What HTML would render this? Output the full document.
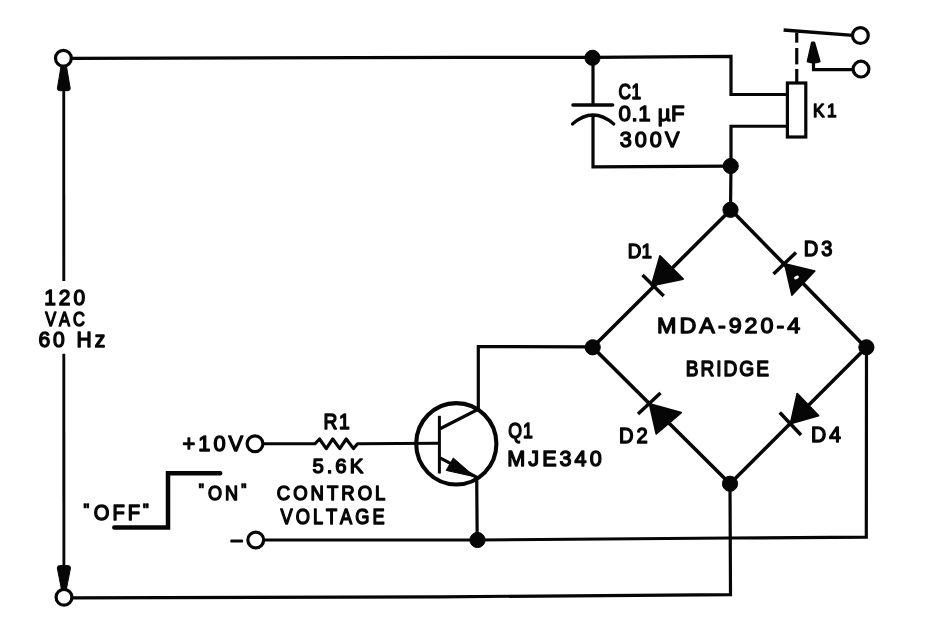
<!DOCTYPE html>
<html lang="en">
<head>
<meta charset="utf-8">
<title>Solid-state relay driver schematic</title>
<style>
html,body{margin:0;padding:0;background:#fff;}
body{width:928px;height:624px;overflow:hidden;}
svg{display:block;will-change:transform;}
svg text{font-family:"Liberation Sans",sans-serif;fill:#060606;stroke:#060606;stroke-linejoin:round;}
.w path,.w rect{fill:none;stroke:#060606;stroke-linecap:butt;stroke-linejoin:miter;}
.f path,.f circle{fill:#060606;stroke:#060606;stroke-width:1;stroke-linejoin:round;}
.t circle{fill:#fff;stroke:#060606;stroke-width:3.2;}
</style>
</head>
<body>
<svg width="928" height="624" viewBox="0 0 928 624">
<rect x="0" y="0" width="928" height="624" fill="#fff"/>
<g class="w">
<path d="M71 58.4 L464 57.4 L593 57.3 L731 56.3 L731 94.5 L787 94.5" stroke-width="3.2" />
<path d="M787 126.25 L731 126.25 L731 166 L730.5 210" stroke-width="3.2" />
<path d="M593 57 L593 105" stroke-width="3.2" />
<path d="M573 105 L612.6 105" stroke-width="3.6" style="stroke-linecap:round"/>
<path d="M572.5 124 Q593 106 613.75 124" stroke-width="3.3" style="stroke-linecap:round"/>
<path d="M593 115.5 L593 166.8 L730.5 166.1" stroke-width="3.2" />
<path d="M730.5 210 L592.7 347.3 L730 483.75 L866 347.8 L731.2 210 L730.5 210" stroke-width="3.6" />
<path d="M592.5 346.9 L478.3 346.6 L478.3 409.3 L440 428.8" stroke-width="3.2" />
<path d="M440 457.8 L476.7 477.3 L477.2 540" stroke-width="3.2" />
<path d="M264 540 L477.5 540 L730.5 538 L866.3 537.1 L866.5 347" stroke-width="3.2" />
<path d="M730 483.75 L730.5 594.6 L440 596.8 L71 597.9" stroke-width="3.2" />
<path d="M63.75 88 L63.8 281" stroke-width="2.9" />
<path d="M63.8 353.75 L63.9 569" stroke-width="2.9" />
<path d="M263.75 443.75 L315 443.75 L319.5 439 L326.25 448.6 L332.75 439 L339.75 448.6 L346.25 439 L353.5 448.6 L357.5 443.75 L439 443.25" stroke-width="3.2" style="stroke-linejoin:round"/>
<path d="M439.4 415.8 L439.4 473.5" stroke-width="3.0" />
<rect x="787.4" y="83" width="18.4" height="54" stroke-width="3.2"/>
<path d="M796.75 32.5 L796.75 42.7" stroke-width="3.2" />
<path d="M796.75 48 L796.75 64.4" stroke-width="3.2" />
<path d="M796.75 69 L796.75 82.5" stroke-width="3.2" />
<path d="M783.6 30 L853 35.4" stroke-width="3.4" />
<path d="M813.5 60 L813.5 69.6 L853 69.6" stroke-width="3.2" />
<path d="M114.3 527.5 L168 527.5 L168 473.25 L220.2 473.25" stroke-width="4.5" style="stroke-linecap:round"/>
<path d="M642.5 275 L663.75 296" stroke-width="3.5" />
<path d="M773.5 274 L796 252.5" stroke-width="3.5" />
<path d="M638 414 L660.5 393" stroke-width="3.5" />
<path d="M779.75 412.5 L801 435" stroke-width="3.5" />
<ellipse cx="456.3" cy="443.8" rx="40.1" ry="40.7" fill="none" stroke="#060606" stroke-width="4.1"/>
</g>
<g class="f">
<path d="M60.9 67 L66.6 67 L70.2 88.3 Q70.4 90.5 68 90.7 L59.6 90.7 Q57.2 90.5 57.4 88.3 Z"/>
<path d="M61.4 589 L66.4 589 L70.5 568 Q70.6 565.8 68.2 565.6 L59.6 565.6 Q57.2 565.8 57.3 568 Z"/>
<path d="M812.2 42.8 L814 42.8 L819.3 61.3 Q813.6 63 808 61.3 Z" style="stroke-width:2.6"/>
<path d="M474.8 476.8 L453.3 458 L446.2 470.4 Z"/>
<path d="M651.5 285.5 L660 256 L683 279 Z" style="stroke-width:1.8"/>
<path d="M784.75 263.75 L814.75 271 L792 295 Z" style="stroke-width:1.8"/>
<path d="M649.5 403.75 L681.25 412.5 L656.25 433.75 Z" style="stroke-width:1.8"/>
<path d="M790.5 423.75 L797.25 393.75 L818.5 415.75 Z" style="stroke-width:1.8"/>
<circle cx="592.5" cy="57.8" r="7.6"/>
<circle cx="730.7" cy="166" r="7.6"/>
<circle cx="730.5" cy="209.8" r="7.6"/>
<circle cx="592.7" cy="347.3" r="7.6"/>
<circle cx="866.4" cy="347.3" r="7.6"/>
<circle cx="730" cy="483.75" r="7.6"/>
<circle cx="477.5" cy="540" r="7.6"/>
</g>
<ellipse cx="796.5" cy="277.5" rx="2.6" ry="1.6" fill="#fff" transform="rotate(-25 796.5 277.5)"/>
<g class="t">
<circle cx="63.4" cy="58.2" r="7.9"/>
<circle cx="64" cy="597.3" r="7.9"/>
<circle cx="255" cy="443.75" r="7.9"/>
<circle cx="255.75" cy="540" r="7.9"/>
<circle cx="860.4" cy="35.5" r="7.9"/>
<circle cx="861" cy="69.1" r="7.9"/>
</g>
<g>
<text transform="translate(44.19 305.30) scale(0.973 1)" x="0.00 15.05 30.09" y="0" font-size="21.51" stroke-width="1.4" vector-effect="non-scaling-stroke">120</text>
<text transform="translate(45.13 325.50) scale(0.785 1)" x="0.00 17.78 35.56" y="0" font-size="20.93" stroke-width="1.4" vector-effect="non-scaling-stroke">VAC</text>
<text transform="translate(38.38 346.90) scale(0.952 1)" x="0.00 15.44 30.87 40.16 59.27" y="0" font-size="22.09" stroke-width="1.4" vector-effect="non-scaling-stroke">60 Hz</text>
<text transform="translate(618.53 98.70) scale(0.800 1)" x="0.00 16.16" y="0" font-size="21.51" stroke-width="1.4" vector-effect="non-scaling-stroke">C1</text>
<text transform="translate(618.53 121.30) scale(0.970 1)" x="0.00 13.30 20.21 33.51 40.42 54.18" y="0" font-size="22.97" stroke-width="1.4" vector-effect="non-scaling-stroke">0.1 µF</text>
<text transform="translate(619.67 146.50) scale(0.964 1)" x="0.00 15.64 31.28 46.92" y="0" font-size="22.53" stroke-width="1.4" vector-effect="non-scaling-stroke">300V</text>
<text transform="translate(813.08 117.40) scale(0.900 1)" x="0.00 15.39" y="0" font-size="19.19" stroke-width="1.4" vector-effect="non-scaling-stroke">K1</text>
<text transform="translate(627.65 257.60) scale(0.900 1)" x="0.00 15.27" y="0" font-size="20.93" stroke-width="1.4" vector-effect="non-scaling-stroke">D1</text>
<text transform="translate(803.65 255.90) scale(0.923 1)" x="0.00 18.99" y="0" font-size="21.80" stroke-width="1.4" vector-effect="non-scaling-stroke">D3</text>
<text transform="translate(657.04 333.20) scale(1.049 1)" x="0.00 21.39 40.31 58.00 68.26 83.49 98.72 113.95 124.22" y="0" font-size="22.24" stroke-width="1.4" vector-effect="non-scaling-stroke">MDA-920-4</text>
<text transform="translate(685.63 375.70) scale(0.865 1)" x="0.00 17.05 35.32 43.77 62.04 81.53" y="0" font-size="22.09" stroke-width="1.4" vector-effect="non-scaling-stroke">BRIDGE</text>
<text transform="translate(619.05 443.10) scale(0.943 1)" x="0.00 18.61" y="0" font-size="21.37" stroke-width="1.4" vector-effect="non-scaling-stroke">D2</text>
<text transform="translate(810.97 442.10) scale(0.954 1)" x="0.00 19.10" y="0" font-size="22.09" stroke-width="1.4" vector-effect="non-scaling-stroke">D4</text>
<text transform="translate(508.26 437.80) scale(0.800 1)" x="0.00 18.29" y="0" font-size="22.09" stroke-width="1.4" vector-effect="non-scaling-stroke">Q1</text>
<text transform="translate(507.33 465.80) scale(0.979 1)" x="0.00 21.47 35.58 53.38 68.73 84.09" y="0" font-size="22.09" stroke-width="1.4" vector-effect="non-scaling-stroke">MJE340</text>
<text transform="translate(182.53 451.10) scale(0.989 1)" x="0.00 15.94 31.26 46.58" y="0" font-size="22.09" stroke-width="1.4" vector-effect="non-scaling-stroke">+10V</text>
<text transform="translate(323.62 429.10) scale(0.900 1)" x="0.00 17.10" y="0" font-size="21.37" stroke-width="1.4" vector-effect="non-scaling-stroke">R1</text>
<text transform="translate(312.38 472.60) scale(0.987 1)" x="0.00 14.52 23.29 37.81" y="0" font-size="20.64" stroke-width="1.4" vector-effect="non-scaling-stroke">5.6K</text>
<text transform="translate(276.76 499.80) scale(0.898 1)" x="0.00 18.24 37.64 55.88 71.83 90.07 109.47" y="0" font-size="20.64" stroke-width="1.4" vector-effect="non-scaling-stroke">CONTROL</text>
<text transform="translate(280.62 523.70) scale(0.840 1)" x="0.00 18.02 38.43 54.05 70.84 88.86 109.28" y="0" font-size="21.66" stroke-width="1.4" vector-effect="non-scaling-stroke">VOLTAGE</text>
<text transform="translate(198.68 500.10) scale(0.874 1)" x="0.00 10.76 30.24 48.58" y="-4.2 0 0 -4.2" font-size="20.64" stroke-width="1.4" vector-effect="non-scaling-stroke"><tspan font-size="16.51">"</tspan>ON<tspan font-size="16.51">"</tspan></text>
<text transform="translate(83.59 520.10) scale(0.942 1)" x="0.00 10.77 30.57 46.80 63.04" y="-4.2 0 0 0 -4.2" font-size="21.37" stroke-width="1.4" vector-effect="non-scaling-stroke"><tspan font-size="17.09">"</tspan>OFF<tspan font-size="17.09">"</tspan></text>
<text transform="translate(229.5 547) scale(1.8 1)" x="0" y="0" font-size="24" stroke-width="1.7" vector-effect="non-scaling-stroke">-</text>
</g>
</svg>
</body>
</html>
